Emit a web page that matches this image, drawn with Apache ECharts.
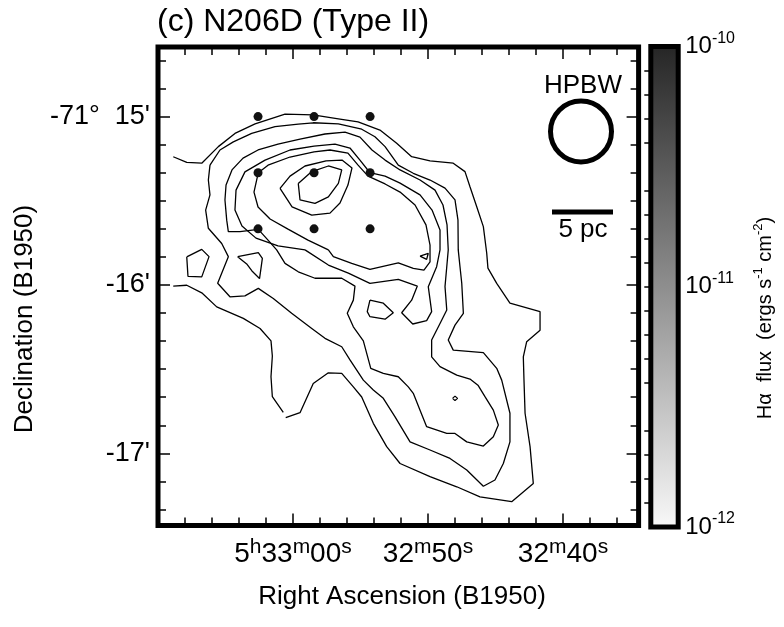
<!DOCTYPE html>
<html><head><meta charset="utf-8">
<script src="https://cdn.jsdelivr.net/npm/echarts@6/dist/echarts.min.js"></script>
<style>html,body{margin:0;padding:0;background:#fff}#c{width:784px;height:627px}</style>
</head><body><div id="c"></div>
<script>
// RA in seconds after 5h32m (B1950); Dec in arcsec south of -71°00' (B1950)
const raTickMajor = [60, 50, 40];
const raTickMinor = [68, 66, 64, 62, 58, 56, 54, 52, 48, 46, 44, 42, 38, 36];
const raTickLabels = ['5{u|h}33{u|m}00{u|s}', '32{u|m}50{u|s}', '32{u|m}40{u|s}'];
const decTickMajor = [900, 960, 1020];
const decTickMinor = [880, 890, 910, 920, 930, 940, 950, 970, 980, 990, 1000, 1010, 1030, 1040];
const decTickLabels = ["-71°  15'", "-16'", "-17'"];
const cbTickLabelValues = [-12, -11, -10];
const cbTickLabels = ['{a|10}{b|-12}', '{a|10}{b|-11}', '{a|10}{b|-10}'];
const cbTickMinor = [-11.9,-11.8,-11.7,-11.6,-11.4,-11.3,-11.2,-11.1,-11.0,-10.9,-10.8,-10.7,-10.6,-10.4,-10.3,-10.2,-10.1];
const cbTickMajor = [-11.5, -10.5];
const cbRange = [-12, -10];

const obsRA = [62.59, 58.44, 54.29];
const obsDec = [900, 920, 940];

const contourA1 = [[68.87,914.3],[67.87,916.3],[66.76,916.6],[65.53,910.7],[64.30,906.0],[62.81,902.6],[60.59,899.1],[58.52,899.4],[56.52,900.9],[55.18,901.9],[53.56,904.8],[52.32,909.5],[51.21,914.3],[49.85,915.8],[48.13,916.6],[47.26,919.6],[46.89,925.0],[46.39,932.1],[45.90,939.2],[45.65,948.7],[45.56,954.0],[44.91,959.4],[43.93,966.5],[41.70,969.5],[41.70,976.1],[42.69,980.2],[42.94,985.6],[42.89,993.9],[42.81,1005.7],[42.44,1017.6],[42.20,1030.7],[43.80,1037.2],[46.15,1035.5],[47.87,1031.9],[49.85,1028.3],[52.07,1023.6],[53.06,1017.6],[54.05,1009.3],[54.91,999.9],[55.53,996.3],[56.39,991.5],[57.38,991.3],[58.50,995.1],[59.48,1005.5],[60.54,1007.3]];
const contourA2 = [[68.87,960.4],[67.87,960.1],[66.76,962.8],[65.65,967.8],[63.68,971.9],[62.44,975.5],[61.63,979.9],[61.53,985.3],[61.63,992.7],[61.53,999.8],[60.72,1005.4]];
const contourB = [[66.15,917.3],[65.41,911.9],[64.42,909.0],[63.06,906.0],[61.33,903.6],[59.61,902.7],[58.50,902.2],[56.64,902.6],[54.91,904.5],[53.93,907.2],[53.18,910.7],[52.20,917.3],[51.09,920.2],[49.85,922.6],[48.74,925.5],[48.00,929.7],[47.78,936.9],[47.76,947.5],[47.63,953.5],[47.50,959.4],[47.38,970.1],[48.00,974.3],[48.50,979.6],[48.13,983.2],[45.90,984.1],[44.91,989.7],[44.54,993.9],[43.93,1005.7],[43.93,1015.9],[44.42,1023.6],[45.04,1029.5],[45.90,1031.7],[47.13,1025.9],[48.37,1021.8],[49.85,1018.8],[51.33,1015.9],[52.44,1007.0],[53.31,1000.4],[54.05,997.4],[54.79,993.9],[55.78,986.7],[56.39,982.0],[57.63,979.0],[58.61,975.5],[60.10,970.1],[61.46,964.8],[62.57,961.2],[63.56,963.9],[64.67,964.2],[65.58,959.4],[64.79,949.9],[65.28,945.2],[66.27,939.8],[66.47,933.3],[66.15,927.9],[66.27,922.6]];
const contourC = [[62.57,940.2],[63.93,941.0],[64.79,941.0],[64.91,936.9],[65.04,929.7],[64.96,924.4],[64.52,919.0],[63.70,914.8],[62.59,911.9],[61.11,909.8],[59.48,908.0],[57.63,906.2],[56.15,905.5],[55.04,907.3],[54.15,911.9],[53.18,915.5],[52.07,919.0],[50.59,922.6],[49.48,926.2],[48.89,931.5],[48.59,938.6],[48.50,947.5],[48.61,953.5],[48.74,960.6],[48.61,968.9],[49.11,973.7],[49.73,979.6],[49.73,985.6],[49.11,989.1],[47.87,992.1],[46.89,993.5],[46.30,995.7],[45.78,999.8],[45.16,1004.6],[44.79,1009.9],[45.16,1014.1],[45.90,1017.4],[47.13,1015.9],[48.00,1012.9],[48.61,1012.9],[50.10,1010.5],[50.59,1004.6],[51.09,998.6],[51.46,996.3],[52.20,992.7],[53.31,991.5],[54.24,989.7],[54.79,979.9],[55.53,974.9],[55.98,970.1],[55.53,965.4],[55.41,960.4],[56.39,957.6],[58.37,957.6],[59.61,955.3],[60.59,952.3],[61.21,947.5],[61.85,944.0]];
const contourD = [[59.11,947.5],[57.38,952.9],[55.90,955.8],[54.30,959.4],[52.20,958.0],[50.79,960.4],[51.21,965.4],[51.95,969.9],[51.13,973.9],[50.10,972.7],[49.73,969.5],[49.98,960.6],[49.36,953.5],[49.11,947.5],[49.11,940.4],[49.70,933.3],[50.59,927.9],[52.07,923.7],[53.18,921.2],[54.30,920.0],[55.04,915.5],[55.78,911.2],[56.89,909.8],[58.44,910.5],[60.22,911.9],[62.07,915.5],[63.56,919.7],[64.22,926.2],[64.30,933.3],[63.78,939.0],[62.74,943.3],[61.11,946.1]];
const contourE = [[57.38,947.5],[57.01,949.9],[55.65,952.3],[54.30,954.4],[52.20,952.1],[51.09,954.1],[50.30,954.7],[49.85,951.8],[49.85,945.8],[50.15,938.6],[50.96,931.5],[52.07,926.9],[53.18,924.0],[54.44,921.2],[55.18,917.3],[55.93,913.0],[57.26,911.9],[58.44,912.6],[60.22,914.4],[61.85,917.3],[62.57,920.0],[62.89,926.9],[62.59,932.2],[61.70,936.5],[60.37,940.1],[58.89,944.0]];
const contourF = [[60.96,925.6],[60.22,921.2],[59.11,917.6],[57.55,915.8],[56.37,915.5],[55.63,918.3],[55.93,924.4],[56.52,930.8],[57.26,934.4],[58.61,935.1],[60.07,932.2]];
const contourG = [[59.61,923.8],[58.61,919.6],[57.38,917.6],[56.39,919.0],[56.64,923.8],[57.38,928.6],[58.37,930.9],[59.48,929.7]];
const islandPentagon = [[67.87,950.0],[66.76,947.3],[66.22,949.9],[66.76,957.1],[67.78,956.9]];
const islandTriangle = [[64.10,949.9],[62.57,948.5],[62.27,950.5],[62.39,954.7],[62.48,957.7],[63.04,955.0],[63.43,952.5]];
const islandLoop = [[54.30,965.4],[53.31,966.5],[52.57,969.9],[53.18,972.2],[54.30,971.3],[54.50,969.5]];
const islandTiny = [[50.59,949.7],[49.98,948.7],[50.10,950.9]];
const islandDiamond = [[48.18,1000.4],[48.00,999.6],[47.81,1000.4],[48.00,1001.2]];

const openContours = [contourA1, contourA2];
const closedContours = [contourB, contourC, contourD, contourE, contourF, contourG,
  islandPentagon, islandTriangle, islandLoop, islandTiny, islandDiamond];

const FONT = '"Liberation Sans", Arial, Helvetica, sans-serif';
const raMin = 34.4, raMax = 70, decMin = 875.2, decMax = 1045.7;

function raAxis(pos, ticks, len, labels) {
  return {
    type: 'value', gridIndex: 0, position: pos, min: raMin, max: raMax, inverse: true,
    axisLine: { show: false }, splitLine: { show: false },
    axisTick: { show: true, inside: true, length: len, customValues: ticks, lineStyle: { color: '#000', width: 1.5 } },
    axisLabel: labels ? {
      show: true, customValues: ticks, margin: 11, color: '#000',
      formatter: v => raTickLabels[raTickMajor.indexOf(v)],
      fontFamily: FONT, fontSize: 28, lineHeight: 36,
      rich: { u: { fontSize: 21, lineHeight: 21, verticalAlign: 'top', fontFamily: FONT, color: '#000' } }
    } : { show: false }
  };
}
function decAxis(pos, ticks, len, labels) {
  return {
    type: 'value', gridIndex: 0, position: pos, min: decMin, max: decMax, inverse: true,
    axisLine: { show: false }, splitLine: { show: false },
    axisTick: { show: true, inside: true, length: len, customValues: ticks, lineStyle: { color: '#000', width: 1.5 } },
    axisLabel: labels ? {
      show: true, customValues: ticks, margin: 8, color: '#000',
      formatter: v => decTickLabels[decTickMajor.indexOf(v)],
      fontFamily: FONT, fontSize: 27
    } : { show: false }
  };
}
function cbAxis(pos, ticks, len, labels) {
  return {
    type: 'value', gridIndex: 1, position: pos, min: cbRange[0], max: cbRange[1],
    axisLine: { show: false }, splitLine: { show: false },
    axisTick: { show: true, inside: true, length: len, customValues: ticks, lineStyle: { color: '#000', width: 1.5 } },
    axisLabel: labels ? {
      show: true, customValues: cbTickLabelValues, margin: 7, color: '#000', align: 'left',
      fontSize: 24, fontFamily: FONT,
      formatter: v => cbTickLabels[cbTickLabelValues.indexOf(v)],
      rich: {
        a: { fontSize: 24, lineHeight: 32, fontFamily: FONT, color: '#000' },
        b: { fontSize: 16, lineHeight: 16, verticalAlign: 'top', fontFamily: FONT, color: '#000' }
      }
    } : { show: false }
  };
}

const series = [];
openContours.forEach(c => series.push({
  type: 'line', xAxisIndex: 0, yAxisIndex: 0, data: c, symbol: 'none', silent: true,
  lineStyle: { color: '#000', width: 1.3 }, z: 3
}));
closedContours.forEach(c => series.push({
  type: 'line', xAxisIndex: 0, yAxisIndex: 0, data: c.concat([c[0]]), symbol: 'none', silent: true,
  lineStyle: { color: '#000', width: 1.3 }, z: 3
}));
const dots = [];
obsDec.forEach(d => obsRA.forEach(r => dots.push([r, d])));
series.push({ type: 'scatter', xAxisIndex: 0, yAxisIndex: 0, data: dots, symbolSize: 9,
  itemStyle: { color: '#111', opacity: 1 }, silent: true, z: 4 });
series.push({
  type: 'custom', xAxisIndex: 4, yAxisIndex: 4, data: [[0, cbRange[0], 1, cbRange[1]]], silent: true, z: 1,
  renderItem: (params, api) => {
    const p0 = api.coord([api.value(0), api.value(1)]);
    const p1 = api.coord([api.value(2), api.value(3)]);
    return { type: 'rect', shape: { x: p0[0], y: p1[1], width: p1[0] - p0[0], height: p0[1] - p1[1] },
      style: { fill: new echarts.graphic.LinearGradient(0, 0, 0, 1, [
        { offset: 0, color: '#262626' }, { offset: 0.5, color: '#8e8e8e' }, { offset: 1, color: '#f8f8f8' }]) } };
  }
});

const chart = echarts.init(document.getElementById('c'), null, { renderer: 'canvas' });
chart.setOption({
  animation: false,
  backgroundColor: '#fff',
  title: { text: '(c) N206D (Type II)', left: 157, top: 6, padding: 0,
    textStyle: { fontSize: 32, fontWeight: 'normal', color: '#000', fontFamily: FONT } },
  grid: [
    { left: 158, top: 47, width: 480.6, height: 478.5, show: true, borderWidth: 5, borderColor: '#000', backgroundColor: 'transparent', z: 10 },
    { left: 650.8, top: 46.5, width: 27.4, height: 480.5, show: true, borderWidth: 5, borderColor: '#000', backgroundColor: 'transparent', z: 10 }
  ],
  xAxis: [
    raAxis('bottom', raTickMajor, 12, true),
    raAxis('bottom', raTickMinor, 8, false),
    raAxis('top', raTickMajor, 12, false),
    raAxis('top', raTickMinor, 8, false),
    { type: 'value', gridIndex: 1, min: 0, max: 1, show: false }
  ],
  yAxis: [
    decAxis('left', decTickMajor, 12, true),
    decAxis('left', decTickMinor, 8, false),
    decAxis('right', decTickMajor, 12, false),
    decAxis('right', decTickMinor, 8, false),
    cbAxis('right', cbTickMinor, 6.5, true),
    cbAxis('right', cbTickMajor, 9.5, false),
    cbAxis('left', cbTickMinor, 6.5, false),
    cbAxis('left', cbTickMajor, 9.5, false)
  ],
  series: series,
  graphic: [
    { type: 'text', x: 25, y: 319, rotation: Math.PI / 2, silent: true,
      style: { text: 'Declination (B1950)', font: '26px ' + FONT, fill: '#000', align: 'center', verticalAlign: 'middle', textAlign: 'center', textVerticalAlign: 'middle' } },
    { type: 'text', x: 402, y: 597, silent: true,
      style: { text: 'Right Ascension (B1950)', font: '26px ' + FONT, fill: '#000', align: 'center', verticalAlign: 'middle', textAlign: 'center', textVerticalAlign: 'middle' } },
    { type: 'text', x: 765, y: 318, rotation: Math.PI / 2, silent: true,
      style: { text: '{n|Hα  flux  (ergs s}{u|-1}{n| cm}{u|-2}{n|)}', align: 'center', verticalAlign: 'middle', textAlign: 'center', textVerticalAlign: 'middle',
        rich: { n: { fontSize: 20, lineHeight: 26, fontFamily: FONT, fill: '#000', color: '#000' },
                u: { fontSize: 13, lineHeight: 13, verticalAlign: 'top', fontFamily: FONT, fill: '#000', color: '#000' } } } },
    { type: 'text', x: 583, y: 86, silent: true,
      style: { text: 'HPBW', font: '26px ' + FONT, fill: '#000', align: 'center', verticalAlign: 'middle', textAlign: 'center', textVerticalAlign: 'middle' } },
    { type: 'circle', shape: { cx: 581, cy: 131.5, r: 30.5 }, silent: true,
      style: { fill: 'none', stroke: '#000', lineWidth: 5 } },
    { type: 'line', shape: { x1: 552, y1: 212, x2: 613, y2: 212 }, silent: true,
      style: { stroke: '#000', lineWidth: 5 } },
    { type: 'text', x: 583, y: 230, silent: true,
      style: { text: '5 pc', font: '26px ' + FONT, fill: '#000', align: 'center', verticalAlign: 'middle', textAlign: 'center', textVerticalAlign: 'middle' } }
  ]
});
</script>
</body></html>
